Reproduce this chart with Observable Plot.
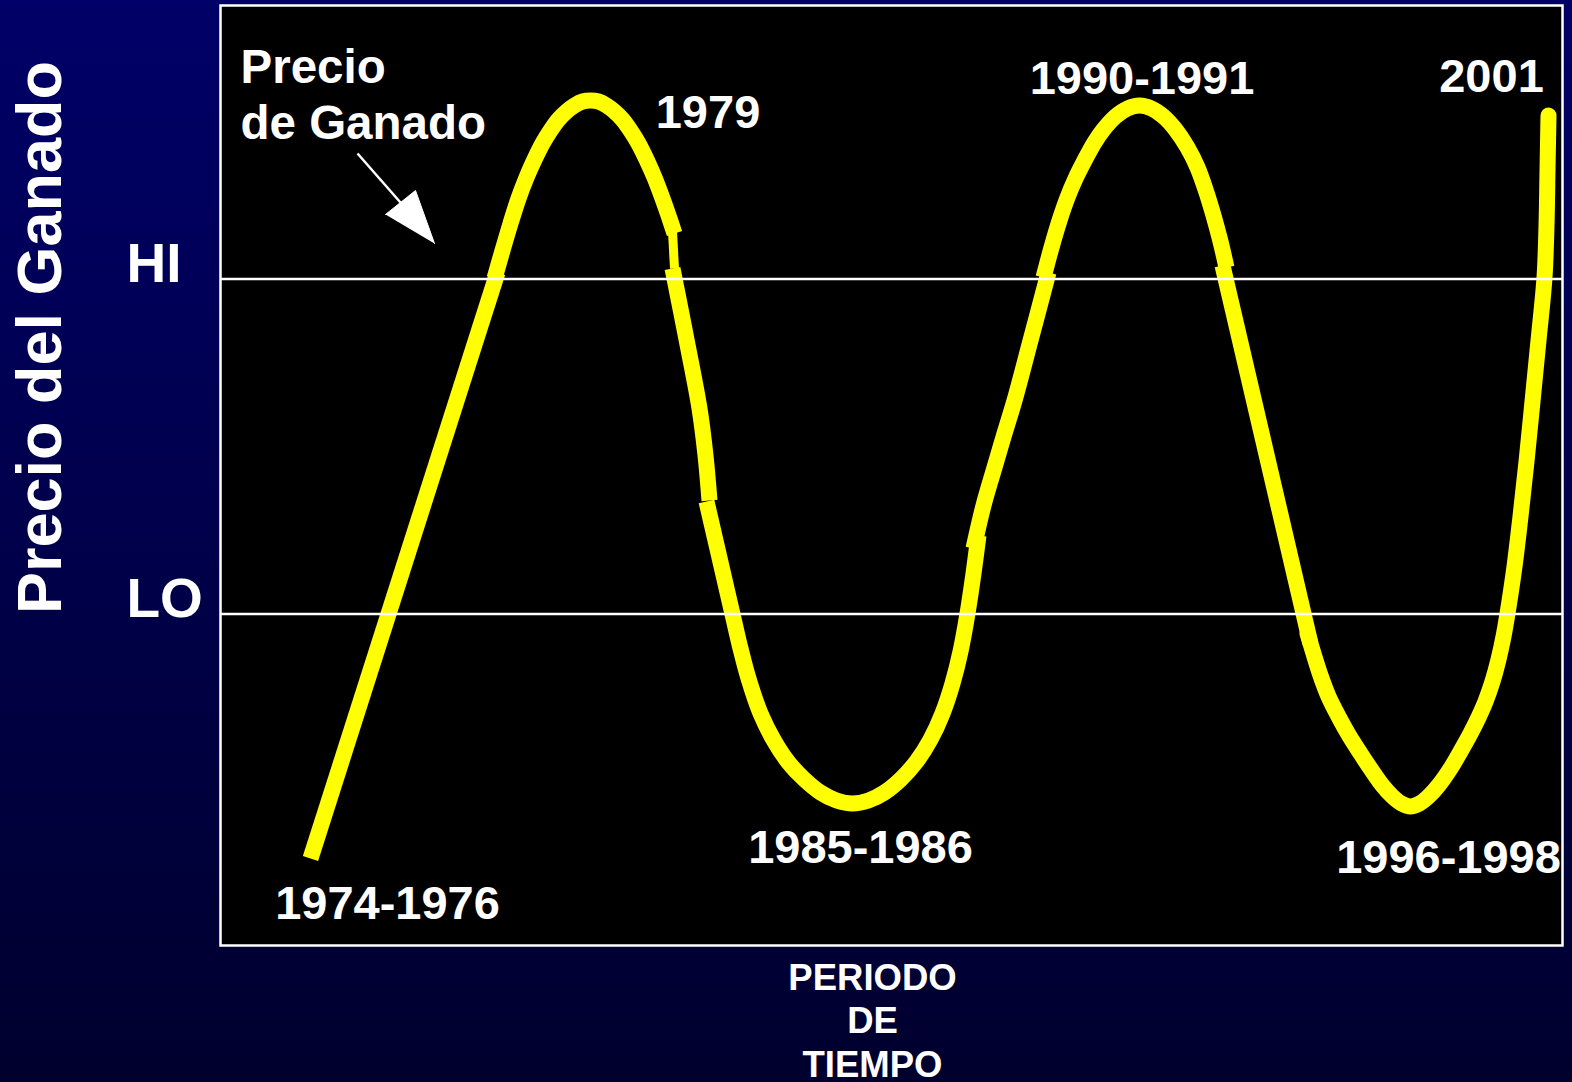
<!DOCTYPE html>
<html>
<head>
<meta charset="utf-8">
<script src="https://cdn.jsdelivr.net/npm/d3@7"></script>
<script src="https://cdn.jsdelivr.net/npm/@observablehq/plot@0.6"></script>
<style>
  html, body { margin: 0; padding: 0; width: 1572px; height: 1082px; overflow: hidden;
    background: linear-gradient(#000068, #00002e); }
  #chart svg { display: block; }
</style>
</head>
<body>
<div id="chart"></div>
<script>
const FONT = '"Liberation Sans", Arial, Helvetica, sans-serif';

// Cattle price cycle, drawn in hand-joined pieces (time index t, price index v)
const rise1T = [91, 278];
const rise1V = [84, 670];
const peak1T = [275, 283, 291, 299, 307, 315, 323, 331, 339, 347, 355, 363, 371, 379, 387, 395, 403, 411, 419, 427, 435, 443, 449, 455];
const peak1V = [664, 692, 719, 744, 765, 783, 799, 812, 823, 831, 837, 841, 842, 841, 837, 831, 823, 812, 799, 783, 765, 744, 727, 709];
const joinT = [453, 455];
const joinV = [711, 674];
const fall1T = [453, 467, 480, 486, 490];
const fall1V = [674, 603, 534, 487, 442];
const trough1T = [487, 496, 505, 514, 521, 529, 541, 555, 569, 585, 601, 617, 633, 649, 665, 681, 697, 711, 723, 733, 741, 748, 754, 759];
const trough1V = [441, 402, 363, 324, 294, 264, 229, 201, 180, 163, 150, 142, 139, 142, 150, 163, 181, 203, 229, 259, 291, 329, 369, 407];
const rise2T = [754, 764, 775, 785, 795, 811, 829];
const rise2V = [394, 437, 475, 509, 542, 602, 670];
const peak2T = [824, 832, 840, 848, 856, 864, 875, 884, 896, 908, 920, 932, 944, 956, 968, 978, 986, 994, 1001, 1007];
const peak2V = [665, 695, 722, 745, 764, 780, 800, 813, 826, 834, 837, 834, 826, 813, 795, 775, 753, 727, 701, 675];
const fall2T = [1003, 1091];
const fall2V = [677, 299];
const trough2T = [1088, 1094, 1101, 1109, 1119, 1129, 1141, 1153, 1163, 1173, 1182, 1191, 1200, 1209, 1219, 1231, 1241, 1251, 1259, 1266, 1273, 1279, 1284, 1288, 1295, 1301, 1307, 1313, 1319, 1325, 1327, 1328, 1329];
const trough2V = [309, 289, 267, 246, 226, 208, 189, 171, 157, 146, 139, 136, 139, 146, 157, 174, 191, 209, 225, 241, 261, 283, 306, 329, 376, 426, 481, 541, 602, 665, 717, 772, 827];

// Price levels
const levelNames = ["LO", "HI"];
const levelValues = [328.5, 663.5];

// Period labels
const periodLabels = ["1979", "1990-1991", "2001", "1985-1986", "1996-1998", "1974-1976"];
const periodT = [488.5, 922.5, 1272, 641, 1229, 168];
const periodV = [815, 849, 851, 80, 70, 24];

// Series annotation and its arrow
const seriesName = "Precio\nde Ganado";
const seriesNameT = 21, seriesNameV = 804;
const arrowShaftT = [138, 181], arrowShaftV = [789, 740];
const arrowHeadT = [166, 196, 215], arrowHeadV = [728, 752, 699];

// Axis titles
const yTitle = "Precio del Ganado";
const xTitle = "PERIODO\nDE\nTIEMPO";

const piece = (id, T, V) => T.map((t, i) => ({t, v: V[i], piece: id}));
const mainPieces = [
  ...piece("rise1", rise1T, rise1V),
  ...piece("peak1", peak1T, peak1V),
  ...piece("fall1", fall1T, fall1V),
  ...piece("trough1", trough1T, trough1V),
  ...piece("rise2", rise2T, rise2V),
  ...piece("peak2", peak2T, peak2V),
  ...piece("fall2", fall2T, fall2V)
];
const joinPiece = piece("join", joinT, joinV);
const lastPiece = piece("trough2", trough2T, trough2V);
const levels = levelNames.map((name, i) => ({name, v: levelValues[i]}));
const periods = periodLabels.map((label, i) => ({label, t: periodT[i], v: periodV[i]}));
const arrowShaft = [{t1: arrowShaftT[0], v1: arrowShaftV[0], t2: arrowShaftT[1], v2: arrowShaftV[1]}];
const arrowHead = arrowHeadT.map((t, i) => ({t, v: arrowHeadV[i]}));

const YELLOW = "#ffff00";
const plot = Plot.plot({
  width: 1572,
  height: 1082,
  marginLeft: 220,
  marginRight: 10,
  marginTop: 5,
  marginBottom: 137,
  style: {background: "transparent", color: "white", fontFamily: FONT, overflow: "visible"},
  x: {domain: [1, 1343], axis: null},
  y: {domain: [-3, 937], axis: null},
  marks: [
    Plot.frame({fill: "black", stroke: "white", strokeWidth: 2.5}),
    Plot.line(joinPiece, {x: "t", y: "v", stroke: YELLOW, strokeWidth: 9, strokeLinecap: "butt"}),
    Plot.line(mainPieces, {x: "t", y: "v", z: "piece", curve: "catmull-rom",
      stroke: YELLOW, strokeWidth: 16, strokeLinecap: "butt", strokeLinejoin: "round"}),
    Plot.line(lastPiece, {x: "t", y: "v", curve: "catmull-rom",
      stroke: YELLOW, strokeWidth: 16, strokeLinecap: "round", strokeLinejoin: "round"}),
    Plot.ruleY(levels, {y: "v", stroke: "white", strokeWidth: 2.6}),
    Plot.link(arrowShaft, {x1: "t1", y1: "v1", x2: "t2", y2: "v2", stroke: "white", strokeWidth: 2.5}),
    Plot.line(arrowHead, {x: "t", y: "v", fill: "white", stroke: "white", strokeWidth: 1}),
    Plot.text(levels, {y: "v", text: "name", frameAnchor: "left", dx: -94, dy: 3,
      textAnchor: "start", lineAnchor: "bottom", fontSize: 55, fontWeight: "bold", fill: "white"}),
    Plot.text(periods, {x: "t", y: "v", text: "label", textAnchor: "middle", lineAnchor: "bottom",
      fontSize: 47, fontWeight: "bold", fill: "white"}),
    Plot.text([{t: seriesNameT, v: seriesNameV, label: seriesName}], {x: "t", y: "v", text: "label",
      textAnchor: "start", lineAnchor: "bottom", lineHeight: 1.17, fontSize: 47.5, fontWeight: "bold", fill: "white"}),
    Plot.text([{t: -159, v: 605, label: yTitle}], {x: "t", y: "v", text: "label", rotate: -90,
      textAnchor: "middle", lineAnchor: "bottom", fontSize: 63, fontWeight: "bold", fill: "white"}),
    Plot.text([{t: 653, v: -134, label: xTitle}], {x: "t", y: "v", text: "label",
      textAnchor: "middle", lineAnchor: "bottom", lineHeight: 1.19, fontSize: 36.5, fontWeight: "bold", fill: "white"})
  ]
});
document.getElementById("chart").appendChild(plot);
</script>
</body>
</html>
